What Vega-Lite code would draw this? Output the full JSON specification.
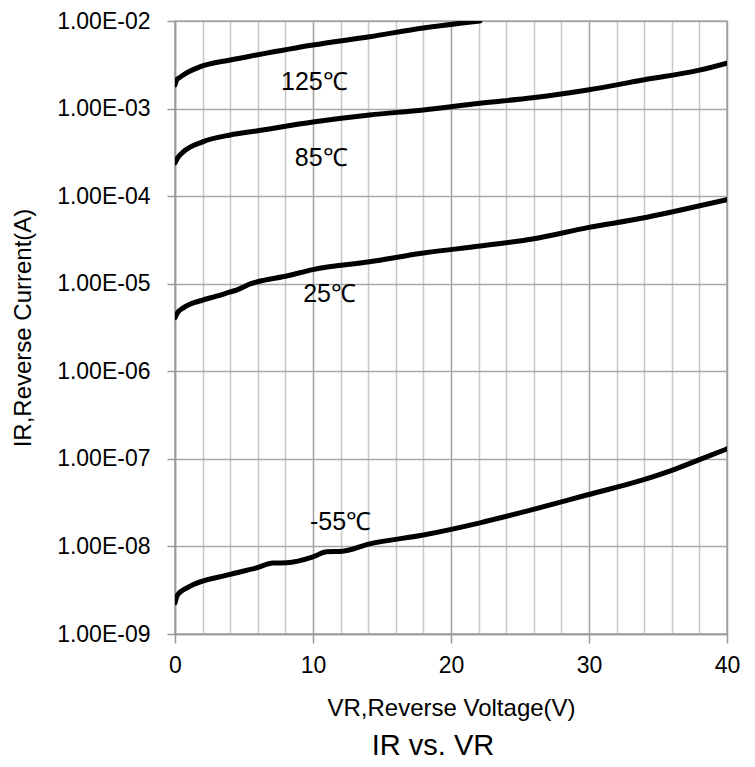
{
  "$schema": "https://vega.github.io/schema/vega-lite/v6.json",
  "autosize": {"type": "none"},
  "padding": {"left": 175, "top": 21, "right": 28, "bottom": 133},
  "width": 552,
  "height": 613,
  "background": "white",
  "config": {
    "font": "Liberation Sans",
    "view": {"stroke": "#a6a6a6", "strokeWidth": 1.5}
  },
  "title": {
    "text": "IR vs. VR",
    "orient": "bottom",
    "fontSize": 29,
    "fontWeight": "normal",
    "color": "#000000",
    "offset": 12,
    "dx": -18
  },
  "datasets": {
    "curves": [
      {"series": "125", "V": 0, "I": 0.00186},
      {"series": "125", "V": 0.1, "I": 0.00209},
      {"series": "125", "V": 0.3, "I": 0.00224},
      {"series": "125", "V": 0.6, "I": 0.00242},
      {"series": "125", "V": 1.8, "I": 0.00299},
      {"series": "125", "V": 4, "I": 0.00359},
      {"series": "125", "V": 5.9, "I": 0.00409},
      {"series": "125", "V": 10, "I": 0.00532},
      {"series": "125", "V": 14.1, "I": 0.00661},
      {"series": "125", "V": 18, "I": 0.00832},
      {"series": "125", "V": 22.1, "I": 0.0100},
      {"series": "85", "V": 0, "I": 0.00024},
      {"series": "85", "V": 0.2, "I": 0.000275},
      {"series": "85", "V": 0.6, "I": 0.00032},
      {"series": "85", "V": 2, "I": 0.000417},
      {"series": "85", "V": 4, "I": 0.0005},
      {"series": "85", "V": 5.9, "I": 0.000555},
      {"series": "85", "V": 10, "I": 0.000703},
      {"series": "85", "V": 14.1, "I": 0.000845},
      {"series": "85", "V": 18, "I": 0.000964},
      {"series": "85", "V": 22.1, "I": 0.00115},
      {"series": "85", "V": 25.9, "I": 0.00133},
      {"series": "85", "V": 29.9, "I": 0.00163},
      {"series": "85", "V": 33.9, "I": 0.00212},
      {"series": "85", "V": 38, "I": 0.00275},
      {"series": "85", "V": 40, "I": 0.00331},
      {"series": "25", "V": 0, "I": 0.0000041},
      {"series": "25", "V": 0.2, "I": 0.0000047},
      {"series": "25", "V": 0.6, "I": 0.0000053},
      {"series": "25", "V": 2, "I": 0.0000065},
      {"series": "25", "V": 3, "I": 0.0000072},
      {"series": "25", "V": 4, "I": 0.00000805},
      {"series": "25", "V": 4.5, "I": 0.0000085},
      {"series": "25", "V": 5.5, "I": 0.00001},
      {"series": "25", "V": 6.5, "I": 0.000011},
      {"series": "25", "V": 7.8, "I": 0.000012},
      {"series": "25", "V": 10, "I": 0.0000145},
      {"series": "25", "V": 14.1, "I": 0.0000178},
      {"series": "25", "V": 18, "I": 0.0000224},
      {"series": "25", "V": 22.1, "I": 0.0000269},
      {"series": "25", "V": 25.9, "I": 0.0000324},
      {"series": "25", "V": 29.9, "I": 0.0000437},
      {"series": "25", "V": 33.9, "I": 0.0000562},
      {"series": "25", "V": 36, "I": 0.000066},
      {"series": "25", "V": 40, "I": 0.000091},
      {"series": "-55", "V": 0, "I": 2.27e-9},
      {"series": "-55", "V": 0.2, "I": 2.82e-9},
      {"series": "-55", "V": 0.9, "I": 3.39e-9},
      {"series": "-55", "V": 4, "I": 4.79e-9},
      {"series": "-55", "V": 5.9, "I": 5.69e-9},
      {"series": "-55", "V": 7.1, "I": 6.46e-9},
      {"series": "-55", "V": 8.1, "I": 6.5e-9},
      {"series": "-55", "V": 10, "I": 7.59e-9},
      {"series": "-55", "V": 11, "I": 8.71e-9},
      {"series": "-55", "V": 12, "I": 8.75e-9},
      {"series": "-55", "V": 14.1, "I": 1.07e-8},
      {"series": "-55", "V": 18, "I": 1.35e-8},
      {"series": "-55", "V": 22.1, "I": 1.86e-8},
      {"series": "-55", "V": 25.9, "I": 2.63e-8},
      {"series": "-55", "V": 29.9, "I": 3.89e-8},
      {"series": "-55", "V": 33.9, "I": 5.75e-8},
      {"series": "-55", "V": 36, "I": 7.4e-8},
      {"series": "-55", "V": 38, "I": 9.8e-8},
      {"series": "-55", "V": 40, "I": 1.3e-7}
    ],
    "labels": [
      {"V": 10.1, "I": 0.002, "label": "125℃"},
      {"V": 10.6, "I": 0.000275, "label": "85℃"},
      {"V": 11.2, "I": 0.0000076, "label": "25℃"},
      {"V": 12.0, "I": 1.9e-8, "label": "-55℃"}
    ]
  },
  "resolve": {"axis": {"x": "independent"}},
  "layer": [
    {
      "data": {"name": "labels"},
      "mark": {"type": "text", "fontSize": 25, "color": "#000000", "align": "center", "baseline": "middle"},
      "encoding": {
        "x": {
          "field": "V",
          "type": "quantitative",
          "scale": {"domain": [0, 40], "nice": false, "zero": false},
          "axis": {
            "orient": "bottom",
            "title": null,
            "values": [2, 4, 6, 8, 12, 14, 16, 18, 22, 24, 26, 28, 32, 34, 36, 38],
            "labels": false,
            "ticks": false,
            "domain": false,
            "grid": true,
            "gridColor": "#c8c8c8",
            "gridWidth": 1.5
          }
        },
        "y": {"field": "I", "type": "quantitative"},
        "text": {"field": "label", "type": "nominal"}
      }
    },
    {
      "data": {"name": "curves"},
      "mark": {"type": "line", "color": "#000000", "strokeWidth": 5, "interpolate": "monotone", "strokeCap": "round", "clip": true},
      "encoding": {
        "x": {
          "field": "V",
          "type": "quantitative",
          "scale": {"domain": [0, 40], "nice": false, "zero": false},
          "axis": {
            "orient": "bottom",
            "title": "VR,Reverse Voltage(V)",
            "values": [0, 10, 20, 30, 40],
            "labelFontSize": 23,
            "labelColor": "#000000",
            "labelPadding": 11,
            "labelFlush": false,
            "labelOverlap": false,
            "tickSize": 9,
            "tickWidth": 1.5,
            "tickColor": "#999999",
            "domainColor": "#999999",
            "domainWidth": 1.5,
            "grid": true,
            "gridColor": "#a0a0a0",
            "gridWidth": 1.5,
            "titleFontSize": 24,
            "titleFontWeight": "normal",
            "titleColor": "#000000",
            "titlePadding": 19
          }
        },
        "y": {
          "field": "I",
          "type": "quantitative",
          "scale": {"type": "log", "domain": [1e-9, 0.01], "nice": false},
          "axis": {
            "title": "IR,Reverse Current(A)",
            "values": [1e-9, 1e-8, 1e-7, 1e-6, 1e-5, 1e-4, 1e-3, 1e-2],
            "labelExpr": "'1.00E-0' + round(-log(datum.value) / LN10)",
            "labelFontSize": 23,
            "labelColor": "#000000",
            "labelPadding": 17,
            "labelFlush": false,
            "labelOverlap": false,
            "tickSize": 8,
            "tickWidth": 1.5,
            "tickColor": "#999999",
            "domainColor": "#999999",
            "domainWidth": 1.5,
            "grid": true,
            "gridColor": "#a8a8a8",
            "gridWidth": 1.5,
            "titleFontSize": 24,
            "titleFontWeight": "normal",
            "titleColor": "#000000",
            "titlePadding": 21
          }
        },
        "detail": {"field": "series", "type": "nominal"}
      }
    }
  ]
}
